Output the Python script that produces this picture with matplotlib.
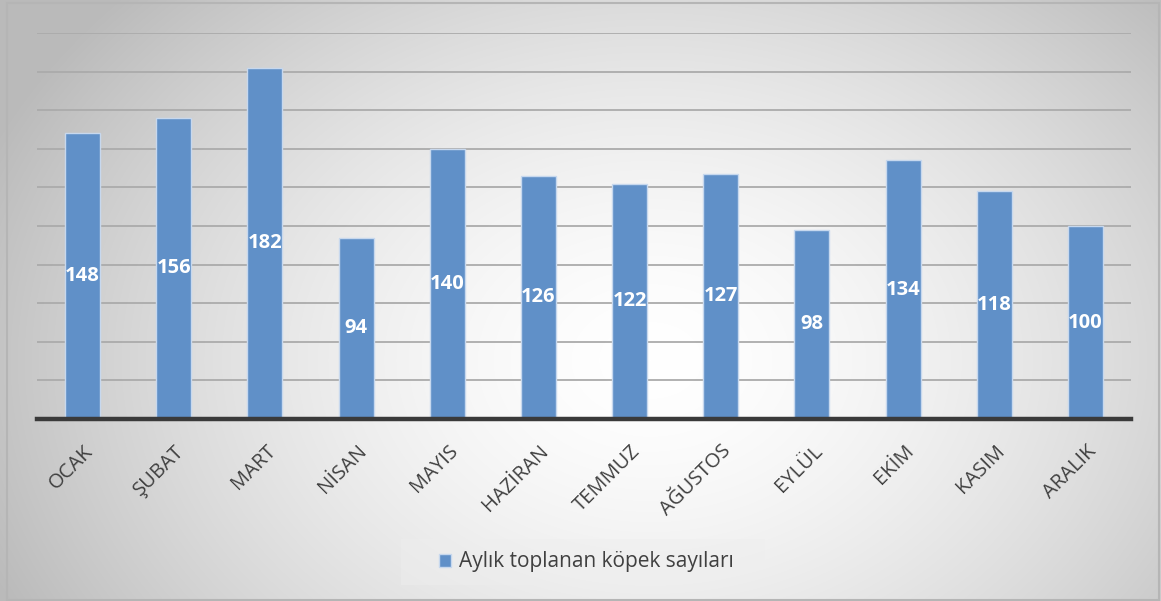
import numpy as np
import matplotlib
matplotlib.use("Agg")
import matplotlib.pyplot as plt
from matplotlib.patches import Rectangle
from matplotlib.transforms import ScaledTranslation

months = ["OCAK", "ŞUBAT", "MART", "NİSAN", "MAYIS", "HAZİRAN", "TEMMUZ",
          "AĞUSTOS", "EYLÜL", "EKİM", "KASIM", "ARALIK"]
counts = [148, 156, 182, 94, 140, 126, 122, 127, 98, 134, 118, 100]
series_name = "Aylık toplanan köpek sayıları"

plt.rcParams['font.family'] = ['Open Sans', 'DejaVu Sans']

W, H = 1161, 601
fig = plt.figure(figsize=(W / 100, H / 100), dpi=100)

# background radial gradient
bg = fig.add_axes([0, 0, 1, 1])
yy, xx = np.mgrid[0:H, 0:W]
cx, cy = 650, 360
r = np.sqrt(((xx - cx) / 720.0) ** 2 + ((yy - cy) / 540.0) ** 2)
r = np.clip(r, 0, 1)
v = 1.0 - 0.27 * r ** 1.6
img = np.dstack([v, v, v])
bg.imshow(img, extent=[0, W, H, 0], aspect='auto', interpolation='bilinear')
bg.set_xlim(0, W)
bg.set_ylim(H, 0)
bg.axis('off')
bg.add_patch(Rectangle((6.5, 2.5), W - 9, H - 4, fill=False, edgecolor='#b5b5b5', lw=1.5))
# legend background box
bg.add_patch(Rectangle((401, 539), 364, 46, facecolor='#eeeeee', edgecolor='none', alpha=0.45))

ax = fig.add_axes([37 / W, 1 - 419 / H, (1131 - 37) / W, (419 - 33) / H])
ax.patch.set_alpha(0)
x = np.arange(len(months))
bars = ax.bar(x, counts, width=0.385, color='#6090c8', edgecolor='#c7d8ee', linewidth=1.0,
              zorder=3, label=series_name)
ax.set_xlim(-0.5, len(months) - 0.5)
ax.set_ylim(0, 200)
ax.set_yticks(np.arange(0, 201, 20))
ax.yaxis.grid(True, color='#ababab', lw=1.3, zorder=0)
ax.tick_params(axis='y', left=False, labelleft=False)
ax.tick_params(axis='x', length=0, pad=16)
for s in ['left', 'right', 'top']:
    ax.spines[s].set_visible(False)
ax.spines['bottom'].set_color('#3a3a3a')
ax.spines['bottom'].set_linewidth(3.2)
ax.spines['bottom'].set_zorder(4)
ax.set_xticks(x)
ax.set_xticklabels(months, rotation=45, ha='right', rotation_mode='anchor',
                   fontsize=14.5, color='#404040')
off = ScaledTranslation(0.5 / 100, 0, fig.dpi_scale_trans)
for lab in ax.get_xticklabels():
    lab.set_transform(lab.get_transform() + off)

for xi, c in zip(x, counts):
    ax.text(xi, c / 2, str(c), ha='center', va='center', color='white',
            fontsize=14.5, fontweight='bold', zorder=5)

leg = fig.legend(handles=[bars], labels=[series_name], loc='center',
                 bbox_to_anchor=(586 / W, 1 - 562 / H), frameon=False,
                 fontsize=15, handlelength=0.6, handleheight=0.6, handletextpad=0.35,
                 labelcolor='#404040')

fig.savefig('out.png', dpi=100)
